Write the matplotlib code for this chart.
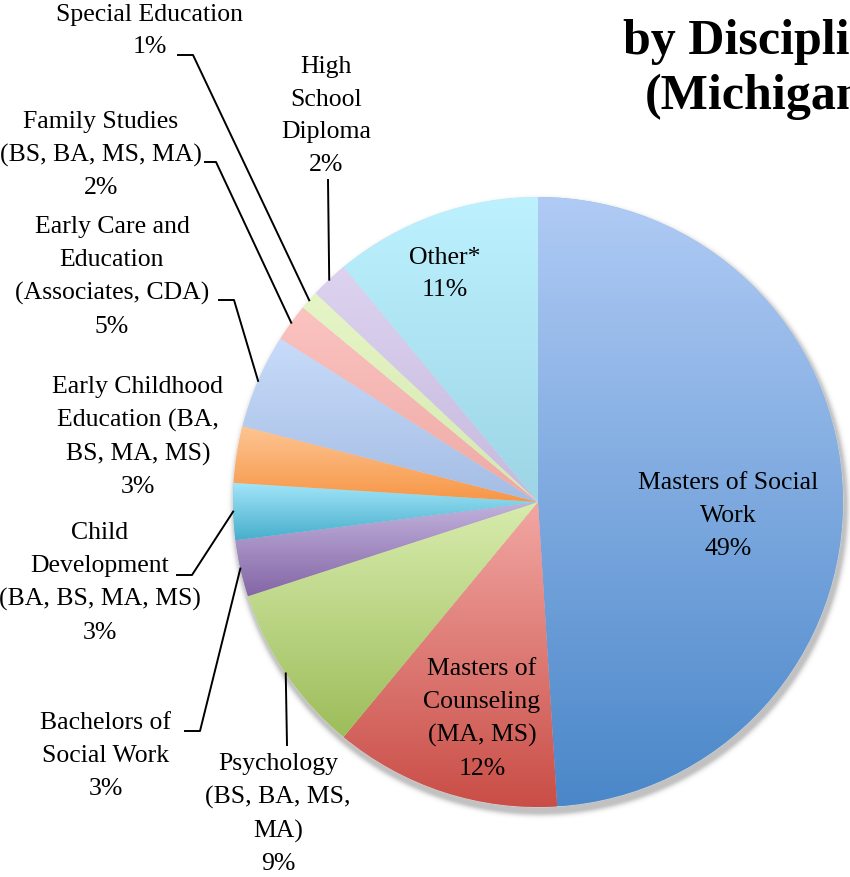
"""
    pie chart of degrees by discipline (Michigan)
"""
import numpy as np
import matplotlib as mpl
mpl.use("Agg")
import matplotlib.pyplot as plt
from matplotlib.colors import to_rgb

# data
categories = ["Masters of Social\nWork", "Masters of\nCounseling\n(MA, MS)",
              "Psychology\n(BS, BA, MS,\nMA)", "Bachelors of\nSocial Work",
              "Child\nDevelopment\n(BA, BS, MA, MS)", "Early Childhood\nEducation (BA,\nBS, MA, MS)",
              "Early Care and\nEducation\n(Associates, CDA)", "Family Studies\n(BS, BA, MS, MA)",
              "Special Education", "High\nSchool\nDiploma", "Other*"]
values = [49, 12, 9, 3, 3, 3, 5, 2, 1, 2, 11]

# gradient colours (top, bottom) per slice
top_colors = ["#b0cbf5", "#f2a7a3", "#d8ecae", "#c2b3dd", "#a3e6fa", "#fdc593",
              "#c8dbfa", "#fbc3c0", "#e6f5c6", "#ddd3ef", "#bdf1fe"]
bottom_colors = ["#4a87c9", "#c94d46", "#9dbd5a", "#8466a6", "#47aecb", "#f79646",
                 "#a4bde4", "#eeaaa5", "#d4e8b0", "#c6b9df", "#9dd5e6"]

W, H = 850, 877
CX, CY, R = 538, H - 502, 305

# label block centres in pixel coords (y down)
label_pos = [(728, 516), (482, 719), (278, 814), (106, 756), (100, 583), (138, 437),
             (112, 277), (101, 155), (150, 31), (326, 116), (445, 274)]
# leader points before the arc point (pixel coords, y down)
leaders = {2: [(287, 745)],
           3: [(185, 731), (200, 731)],
           4: [(177, 575), (192, 575)],
           6: [(219, 300), (234, 300)],
           7: [(205, 162), (216, 162)],
           8: [(178, 55), (193, 55)],
           9: [(328, 180)]}

plt.rcParams["font.family"] = ["Liberation Serif", "DejaVu Serif"]

fig = plt.figure(figsize=(W / 100, H / 100), dpi=100)
ax = fig.add_axes([0, 0, 1, 1])

# soft shadow under the pie
yy, xx = np.mgrid[0:H, 0:W]
d = np.hypot(xx + 0.5 - (CX + 2), (H - yy - 0.5) - (CY - 5)) - R
shadow = np.zeros((H, W, 4))
shadow[..., :3] = 0.4
shadow[..., 3] = np.where(d < 0, 0.4, 0.4 * np.exp(-(d / 4.0) ** 2))
ax.imshow(shadow, extent=(0, W, 0, H), origin="upper", zorder=0, interpolation="bilinear")

wedges, _ = ax.pie(values, startangle=90, counterclock=False, center=(CX, CY), radius=R,
                   colors=bottom_colors, frame=True,
                   wedgeprops=dict(linewidth=0.6, edgecolor=(1, 1, 1, 0.5)))

for w, c0, c1 in zip(wedges, top_colors, bottom_colors):
    verts = w.get_patch_transform().transform(w.get_path().vertices)
    y0, y1 = verts[:, 1].min(), verts[:, 1].max()
    t = np.linspace(0, 1, 256)[:, None]
    grad = np.array(to_rgb(c1))[None, :] * (1 - t) + np.array(to_rgb(c0))[None, :] * t
    img = ax.imshow(grad[:, None, :], extent=(CX - R, CX + R, y0, y1), origin="lower",
                    aspect="auto", zorder=2, interpolation="bilinear")
    img.set_clip_path(w)

# labels
total = sum(values)
cum = np.cumsum([0] + values)
for i, (lab, v) in enumerate(zip(categories, values)):
    x, y = label_pos[i]
    ax.text(x, H - y, f"{lab}\n{round(100 * v / total)}%", ha="center", va="center",
            fontsize=18.5, linespacing=1.62, color="black", zorder=5)
    if i in leaders:
        mid = (cum[i] + cum[i + 1]) / 2 / total * 2 * np.pi
        ex, ey = CX + R * np.sin(mid), CY + R * np.cos(mid)
        pts = [(px, H - py) for px, py in leaders[i]] + [(ex, ey)]
        ax.plot([p[0] for p in pts], [p[1] for p in pts], color="black", lw=1.4, zorder=4)

# title, cut off at the right edge as in the original
ax.text(623, H - 42, "by Discipli", fontsize=36, fontweight="bold", ha="left", va="center")
ax.text(645, H - 97, "(Michigan", fontsize=36, fontweight="bold", ha="left", va="center")

ax.set_xlim(0, W)
ax.set_ylim(0, H)
ax.set_aspect("auto")
ax.axis("off")

fig.savefig("out.png", dpi=100)
